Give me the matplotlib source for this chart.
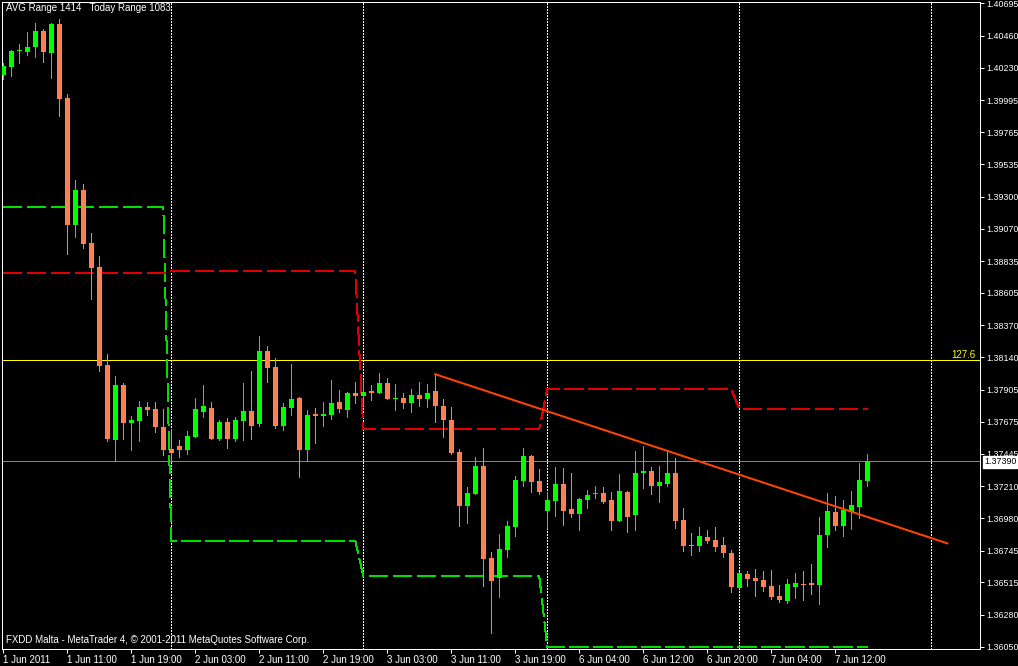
import matplotlib.pyplot as plt

plt.rcParams['font.family'] = ['Liberation Sans', 'DejaVu Sans']

# часовые свечи, 1 Jun 03:00 .. 7 Jun 16:00
opens = [
    1.40178, 1.40236, 1.40352, 1.40345, 1.40381, 1.40496, 1.40337, 1.40547, 1.40012, 1.39096,
    1.39348, 1.38965, 1.38792, 1.38085, 1.37543, 1.37940, 1.37666, 1.37680, 1.37781, 1.37767,
    1.37637, 1.37478, 1.37500, 1.37471, 1.37565, 1.37745, 1.37774, 1.37550, 1.37673, 1.37550,
    1.37680, 1.37753, 1.37659, 1.38186, 1.38070, 1.37644, 1.37774, 1.37846, 1.37471, 1.37731,
    1.37716, 1.37724, 1.37818, 1.37760, 1.37883, 1.37861, 1.37897, 1.37883, 1.37955, 1.37839,
    1.37846, 1.37810, 1.37868, 1.37839, 1.37897, 1.37789, 1.37688, 1.37457, 1.37067, 1.37153,
    1.37355, 1.36691, 1.36547, 1.36749, 1.36915, 1.37247, 1.37428, 1.37247, 1.37031, 1.37103,
    1.37226, 1.37045, 1.37009, 1.37110, 1.37153, 1.37160, 1.37110, 1.36958, 1.37168, 1.37002,
    1.37305, 1.37319, 1.37211, 1.37226, 1.37305, 1.36966, 1.36785, 1.36778, 1.36843, 1.36821,
    1.36785, 1.36727, 1.36475, 1.36576, 1.36547, 1.36532, 1.36489, 1.36417, 1.36381, 1.36482,
    1.36503, 1.36511, 1.36496, 1.36857, 1.37023, 1.36922, 1.37023, 1.37059, 1.37247]
highs = [
    1.40265, 1.40359, 1.40402, 1.40489, 1.40554, 1.40511, 1.40554, 1.40583, 1.40041, 1.39420,
    1.39391, 1.39038, 1.38872, 1.38164, 1.38005, 1.37955, 1.37716, 1.37825, 1.37818, 1.37818,
    1.37767, 1.37623, 1.37543, 1.37608, 1.37846, 1.37940, 1.37818, 1.37688, 1.37702, 1.37709,
    1.37955, 1.38041, 1.38294, 1.38222, 1.38135, 1.37810, 1.38092, 1.37854, 1.37760, 1.37774,
    1.37818, 1.37976, 1.37904, 1.37890, 1.37962, 1.37976, 1.37940, 1.38027, 1.37991, 1.37948,
    1.37883, 1.37911, 1.37962, 1.37948, 1.38020, 1.37839, 1.37781, 1.37478, 1.37204, 1.37420,
    1.37485, 1.36735, 1.36865, 1.36958, 1.37283, 1.37485, 1.37435, 1.37334, 1.37168, 1.37348,
    1.37341, 1.37305, 1.37124, 1.37182, 1.37211, 1.37204, 1.37168, 1.37298, 1.37175, 1.37464,
    1.37500, 1.37348, 1.37355, 1.37471, 1.37413, 1.37052, 1.36872, 1.36915, 1.36893, 1.36915,
    1.36843, 1.36749, 1.36590, 1.36597, 1.36612, 1.36597, 1.36605, 1.36496, 1.36540, 1.36583,
    1.36597, 1.36648, 1.36987, 1.37160, 1.37139, 1.37110, 1.37175, 1.37377, 1.37442]
lows = [
    1.40150, 1.40171, 1.40265, 1.40323, 1.40308, 1.40272, 1.40157, 1.39883, 1.38886, 1.39009,
    1.38929, 1.38561, 1.38041, 1.37536, 1.37392, 1.37550, 1.37471, 1.37536, 1.37724, 1.37601,
    1.37435, 1.37399, 1.37420, 1.37442, 1.37565, 1.37709, 1.37550, 1.37543, 1.37485, 1.37536,
    1.37543, 1.37550, 1.37644, 1.37962, 1.37630, 1.37615, 1.37724, 1.37276, 1.37392, 1.37522,
    1.37644, 1.37695, 1.37745, 1.37709, 1.37810, 1.37796, 1.37832, 1.37883, 1.37839, 1.37760,
    1.37774, 1.37745, 1.37789, 1.37781, 1.37673, 1.37565, 1.37442, 1.36922, 1.36944, 1.37153,
    1.36489, 1.36150, 1.36410, 1.36698, 1.36850, 1.37211, 1.37168, 1.37153, 1.36908, 1.36994,
    1.36930, 1.36987, 1.36893, 1.37052, 1.37124, 1.37088, 1.36893, 1.36958, 1.36879, 1.36893,
    1.37197, 1.37153, 1.37096, 1.37211, 1.36908, 1.36742, 1.36713, 1.36742, 1.36800, 1.36742,
    1.36698, 1.36446, 1.36475, 1.36489, 1.36417, 1.36453, 1.36395, 1.36374, 1.36366, 1.36402,
    1.36388, 1.36431, 1.36359, 1.36771, 1.36893, 1.36850, 1.36901, 1.36980, 1.37211]
closes = [
    1.40243, 1.40352, 1.40352, 1.40381, 1.40496, 1.40345, 1.40547, 1.40005, 1.39096, 1.39348,
    1.38958, 1.38785, 1.38078, 1.37550, 1.37940, 1.37666, 1.37688, 1.37781, 1.37760, 1.37637,
    1.37471, 1.37449, 1.37471, 1.37572, 1.37767, 1.37789, 1.37550, 1.37673, 1.37550, 1.37688,
    1.37753, 1.37644, 1.38186, 1.38063, 1.37644, 1.37781, 1.37839, 1.37471, 1.37724, 1.37716,
    1.37731, 1.37810, 1.37767, 1.37883, 1.37861, 1.37890, 1.37883, 1.37955, 1.37839, 1.37846,
    1.37810, 1.37868, 1.37839, 1.37883, 1.37789, 1.37688, 1.37449, 1.37067, 1.37160, 1.37355,
    1.36684, 1.36525, 1.36756, 1.36922, 1.37254, 1.37428, 1.37240, 1.37168, 1.37110, 1.37226,
    1.37031, 1.37009, 1.37117, 1.37146, 1.37160, 1.37096, 1.36958, 1.37175, 1.36987, 1.37305,
    1.37319, 1.37211, 1.37240, 1.37305, 1.36958, 1.36778, 1.36778, 1.36850, 1.36814, 1.36771,
    1.36727, 1.36482, 1.36583, 1.36540, 1.36525, 1.36482, 1.36410, 1.36388, 1.36503, 1.36511,
    1.36496, 1.36496, 1.36857, 1.37031, 1.36922, 1.37038, 1.37074, 1.37254, 1.37390]

# дневные уровни индикатора (по дням: первый и последний бар дня)
day_first = [0, 21, 45, 68, 92]
day_last = [20, 44, 67, 91, 108]
day_starts = [21, 45, 68, 92, 116]
green_levels = [1.39223, 1.36816, 1.36559, 1.36047, 1.36047]
red_levels = [1.38747, 1.38761, 1.37623, 1.37911, 1.37767]

fib_level = 1.38121
fib_label = '127.6'
bid_price = 1.37390
trend_bars = [54, 118]
trend_prices = [1.38018, 1.36797]

x_ticks = [0, 8, 16, 24, 32, 40, 48, 56, 64, 72, 80, 88, 96, 104]
x_labels = ['1 Jun 2011', '1 Jun 11:00', '1 Jun 19:00', '2 Jun 03:00', '2 Jun 11:00',
            '2 Jun 19:00', '3 Jun 03:00', '3 Jun 11:00', '3 Jun 19:00', '6 Jun 04:00',
            '6 Jun 12:00', '6 Jun 20:00', '7 Jun 04:00', '7 Jun 12:00']
y_ticks = [1.40695, 1.40460, 1.40230, 1.39995, 1.39765, 1.39535, 1.39300, 1.39070,
           1.38835, 1.38605, 1.38370, 1.38140, 1.37905, 1.37675, 1.37445, 1.37210,
           1.36980, 1.36745, 1.36515, 1.36280, 1.36050]

W, H = 1018, 666
fig = plt.figure(figsize=(W / 100, H / 100), dpi=100, facecolor='black')
ax = fig.add_axes([2.3 / W, (H - 648.5) / H, (980.3 - 2.3) / W, (648.5 - 2.3) / H])
ax.set_facecolor('black')

bull = '#00ff00'
bear = '#ff7f50'
px = 0.72  # один пиксель в пунктах
thin = 0.55

# свечи
for i in range(len(opens)):
    o, h, l, c = opens[i], highs[i], lows[i], closes[i]
    col = bull if c >= o else bear
    ax.vlines(i, l, h, color=col, lw=px, zorder=4, antialiased=False)
    bottom = min(o, c)
    height = max(abs(c - o), 0.00008)
    ax.bar(i, height, bottom=bottom, width=0.62, color=col, lw=0, zorder=5,
           antialiased=False)

# пунктирные дневные уровни
green_series = []
red_series = []
bars = []
for d in range(len(day_first)):
    for b in range(day_first[d], day_last[d] + 1):
        bars.append(b)
        green_series.append(green_levels[d])
        red_series.append(red_levels[d])
dash = (0, (13.0 / thin, 4.3 / thin))
ax.plot(bars, green_series, color='#00e000', lw=thin, linestyle=dash, zorder=3,
        antialiased=False)
ax.plot(bars, red_series, color='#e00000', lw=thin, linestyle=dash, zorder=3,
        antialiased=False)

# разделители дней
for s in day_starts:
    ax.axvline(s, color='white', lw=thin, linestyle=(0, (2.6, 2.6)), zorder=2,
               antialiased=False)

# горизонтальные линии и тренд
ax.axhline(fib_level, color='#ffff00', lw=thin, zorder=2, antialiased=False)
ax.axhline(bid_price, color='#778899', lw=thin, zorder=2, antialiased=False)
ax.plot(trend_bars, trend_prices, color='#ff4500', lw=2 * px, zorder=6)

ax.set_xlim(-0.125, 122.125)
ax.set_ylim(1.36038, 1.40703)

for sp in ax.spines.values():
    sp.set_color('white')
    sp.set_linewidth(px)

ax.yaxis.tick_right()
ax.set_yticks(y_ticks)
ax.set_yticklabels(['%.5f' % v for v in y_ticks])
ax.tick_params(axis='y', colors='white', labelcolor='white', direction='out',
               length=3, width=px, pad=1, labelsize=6.4)
ax.set_xticks(x_ticks)
ax.set_xticklabels(x_labels, ha='left')
ax.tick_params(axis='x', colors='white', labelcolor='white', direction='out',
               length=3, width=px, pad=2, labelsize=7)

fig.text(6 / W, 1 - 8 / H, 'AVG Range 1414   Today Range 1083', color='white',
         fontsize=7, va='center', ha='left')
fig.text(6 / W, 1 - 640 / H,
         'FXDD Malta - MetaTrader 4, \u00a9 2001-2011 MetaQuotes Software Corp.',
         color='white', fontsize=7, va='center', ha='left')
fig.text(976 / W, 1 - 355 / H, fib_label, color='#ffff00', fontsize=7,
         va='center', ha='right')
fig.text(984 / W, 1 - 462 / H, '%.5f' % bid_price, color='black', fontsize=6.4,
         va='center', ha='left', zorder=10,
         bbox=dict(facecolor='white', edgecolor='white', pad=0.8))

fig.savefig('out.png', dpi=100, facecolor='black')
